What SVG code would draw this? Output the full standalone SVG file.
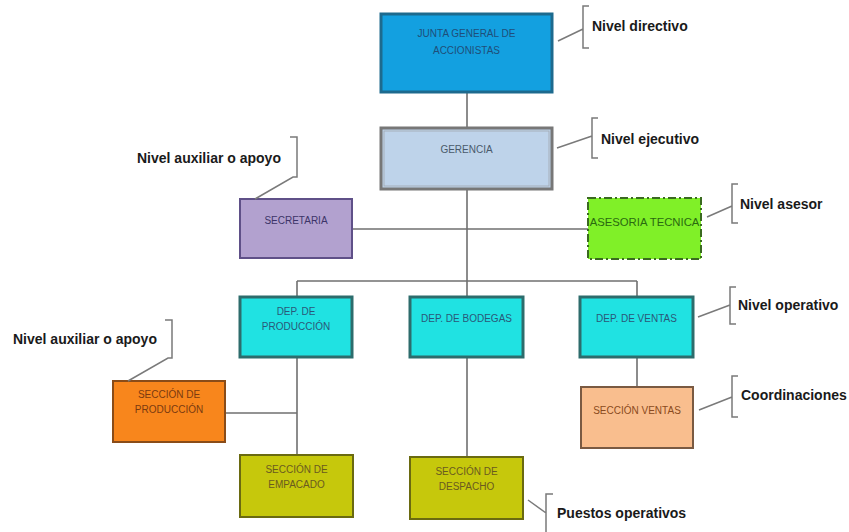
<svg xmlns="http://www.w3.org/2000/svg" width="849" height="532" viewBox="0 0 849 532">
<style>
.box text{font-family:"Liberation Sans",Arial,sans-serif;font-size:10px;text-anchor:middle}
.lbl{font-family:"Liberation Sans",Arial,sans-serif;font-size:14px;font-weight:bold;fill:#1a1a1a}
.conn{stroke:#707070;stroke-width:1.6;fill:none}
.br{stroke:#7a7a7a;stroke-width:1.5;fill:none}
</style>
<rect width="849" height="532" fill="#ffffff"/>
<g id="connectors">
<path class="conn" d="M467 92V128M467 189V281M297 281H637M297 281V297M467 281V297M637 281V297M352 229H588"/>
<path class="conn" d="M297 357V455M225 413H297M467 357V457M637 357V387"/>
</g>
<g id="junta" class="box">
<rect x="381" y="14" width="171" height="78" fill="#13a0e0" stroke="#1d6a8e" stroke-width="3"/>
<text x="466.5" y="37" fill="#1f4e79">JUNTA GENERAL DE</text>
<text x="466.5" y="54" fill="#1f4e79">ACCIONISTAS</text>
</g>
<g id="gerencia" class="box">
<rect x="381" y="128" width="171" height="61" fill="#bed3ea" stroke="#777777" stroke-width="3"/>
<rect x="384" y="131" width="165" height="55" fill="none" stroke="#a0a8b0" stroke-width="0.8"/>
<text x="466.5" y="153" fill="#4a5a6a">GERENCIA</text>
</g>
<g id="secretaria" class="box">
<rect x="240" y="199" width="112" height="59" fill="#b2a1cf" stroke="#5f5088" stroke-width="2"/>
<text x="296" y="224" fill="#3c3468">SECRETARIA</text>
</g>
<g id="asesoria" class="box">
<rect x="588" y="198" width="113" height="61" fill="#80f028" stroke="#3a6a20" stroke-width="2" stroke-dasharray="8 3 2 3"/>
<text x="644.5" y="226" fill="#2a6a10" style="font-size:11.3px">ASESORIA TECNICA</text>
</g>
<g id="dep-produccion" class="box">
<rect x="240" y="297" width="112" height="60" fill="#20e2e2" stroke="#2d6c6c" stroke-width="3"/>
<text x="296" y="315" fill="#2a5878">DEP. DE</text>
<text x="296" y="330" fill="#2a5878">PRODUCCIÓN</text>
</g>
<g id="dep-bodegas" class="box">
<rect x="410" y="297" width="113" height="60" fill="#20e2e2" stroke="#2d6c6c" stroke-width="3"/>
<text x="466.5" y="322" fill="#2a5878">DEP. DE BODEGAS</text>
</g>
<g id="dep-ventas" class="box">
<rect x="580" y="297" width="113" height="60" fill="#20e2e2" stroke="#2d6c6c" stroke-width="3"/>
<text x="636.5" y="322" fill="#2a5878">DEP. DE VENTAS</text>
</g>
<g id="seccion-produccion" class="box">
<rect x="113" y="381" width="112" height="61" fill="#f8861c" stroke="#8a4c18" stroke-width="2"/>
<text x="169" y="398" fill="#7a3a10">SECCIÓN DE</text>
<text x="169" y="413" fill="#7a3a10">PRODUCCIÓN</text>
</g>
<g id="seccion-ventas" class="box">
<rect x="581" y="387" width="112" height="61" fill="#f9be8e" stroke="#7a5a42" stroke-width="2"/>
<text x="637" y="414" fill="#8a4a20">SECCIÓN VENTAS</text>
</g>
<g id="seccion-empacado" class="box">
<rect x="240" y="455" width="113" height="62" fill="#c6c80c" stroke="#6a6a10" stroke-width="2"/>
<text x="296.5" y="473" fill="#6a5a20">SECCIÓN DE</text>
<text x="296.5" y="488" fill="#6a5a20">EMPACADO</text>
</g>
<g id="seccion-despacho" class="box">
<rect x="410" y="457" width="113" height="62" fill="#c6c80c" stroke="#6a6a10" stroke-width="2"/>
<text x="466.5" y="475" fill="#6a5a20">SECCIÓN DE</text>
<text x="466.5" y="490" fill="#6a5a20">DESPACHO</text>
</g>
<g id="nivel-directivo">
<path class="br" d="M558 41L583 29M589 6H583V48H589"/>
<text class="lbl" x="592" y="31">Nivel directivo</text>
</g>
<g id="nivel-ejecutivo">
<path class="br" d="M557 148L592 136M598 118H592V158H598"/>
<text class="lbl" x="601" y="144">Nivel ejecutivo</text>
</g>
<g id="nivel-auxiliar-1">
<path class="br" d="M255 199L293 177H297V137H290"/>
<text class="lbl" x="137" y="163">Nivel auxiliar o apoyo</text>
</g>
<g id="nivel-asesor">
<path class="br" d="M707 217L732 206M738 184H732V223H738"/>
<text class="lbl" x="740" y="209">Nivel asesor</text>
</g>
<g id="nivel-operativo">
<path class="br" d="M698 317L730 305M736 287H730V324H736"/>
<text class="lbl" x="738" y="310">Nivel operativo</text>
</g>
<g id="nivel-auxiliar-2">
<path class="br" d="M128 381L168 358H172V320H165"/>
<text class="lbl" x="13" y="344">Nivel auxiliar o apoyo</text>
</g>
<g id="coordinaciones">
<path class="br" d="M699 410L732 397M738 376H732V417H738"/>
<text class="lbl" x="741" y="400">Coordinaciones</text>
</g>
<g id="puestos-operativos">
<path class="br" d="M528 500L546 513M553 494H546V532"/>
<text class="lbl" x="557" y="518">Puestos operativos</text>
</g>
</svg>
